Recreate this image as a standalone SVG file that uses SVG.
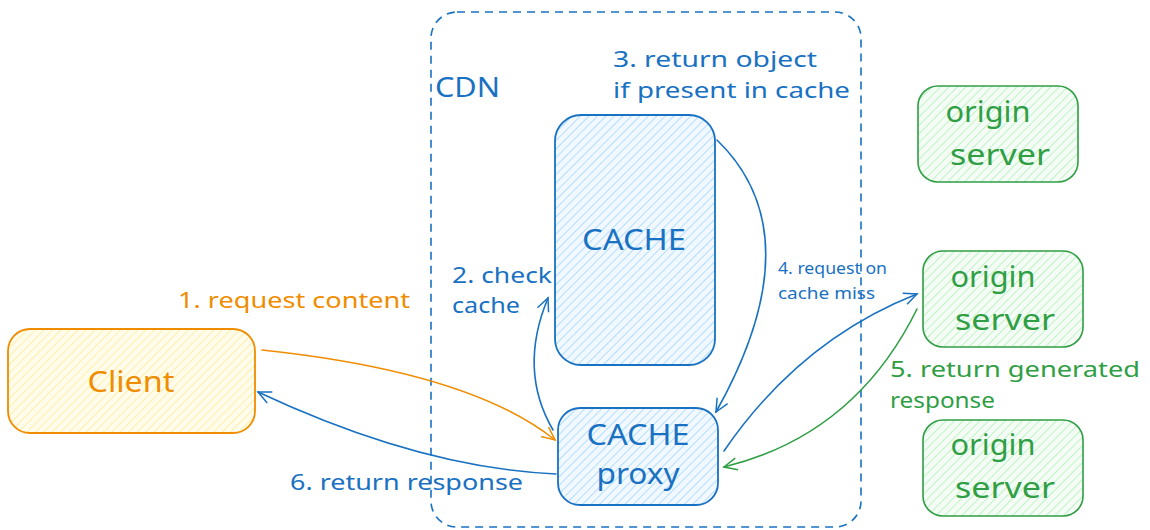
<svg xmlns="http://www.w3.org/2000/svg" width="1150" height="530" viewBox="0 0 1150 530">
<style>
text{font-family:"Noto Sans","Liberation Sans",sans-serif;}
.b{fill:#1971c2}.o{fill:#f08c00}.g{fill:#2f9e44}
.lbl{font-size:22px}
.big{font-size:29px;text-anchor:middle}
.conn{fill:none;stroke-width:1.6;stroke-linecap:round}
</style>
<defs>
<pattern id="hb" width="6" height="6" patternUnits="userSpaceOnUse" patternTransform="rotate(45)"><rect width="6" height="6" fill="#f1f8ff"/><line x1="0" y1="0" x2="0" y2="6" stroke="#a5d8ff" stroke-width="1.6"/></pattern>
<pattern id="ho" width="6" height="6" patternUnits="userSpaceOnUse" patternTransform="rotate(45)"><rect width="6" height="6" fill="#fffcec"/><line x1="0" y1="0" x2="0" y2="6" stroke="#ffec99" stroke-width="1.6"/></pattern>
<pattern id="hg" width="6" height="6" patternUnits="userSpaceOnUse" patternTransform="rotate(45)"><rect width="6" height="6" fill="#f4fcf5"/><line x1="0" y1="0" x2="0" y2="6" stroke="#b2f2bb" stroke-width="1.6"/></pattern>
<marker id="ab" markerWidth="16" markerHeight="16" refX="14" refY="8" orient="auto" markerUnits="userSpaceOnUse"><path d="M1,2 L14,8 L1,14" fill="none" stroke="#1971c2" stroke-width="1.5"/></marker>
<marker id="ao" markerWidth="16" markerHeight="16" refX="14" refY="8" orient="auto" markerUnits="userSpaceOnUse"><path d="M1,2 L14,8 L1,14" fill="none" stroke="#f08c00" stroke-width="1.5"/></marker>
<marker id="ag" markerWidth="16" markerHeight="16" refX="14" refY="8" orient="auto" markerUnits="userSpaceOnUse"><path d="M1,2 L14,8 L1,14" fill="none" stroke="#2f9e44" stroke-width="1.5"/></marker>
</defs>

<g id="cdn">
<rect x="431" y="12" width="430" height="515" rx="26" fill="none" stroke="#1971c2" stroke-width="1.6" stroke-dasharray="8 6"/>
<text class="b" x="435" y="97" font-size="27" textLength="65" lengthAdjust="spacingAndGlyphs">CDN</text>
</g>

<g id="cache">
<rect x="555" y="115" width="160" height="250" rx="26" fill="url(#hb)" stroke="#1971c2" stroke-width="1.8"/>
<text class="b big" x="634" y="250" textLength="104" lengthAdjust="spacingAndGlyphs">CACHE</text>
</g>

<g id="proxy">
<rect x="558" y="408" width="160" height="97" rx="22" fill="url(#hb)" stroke="#1971c2" stroke-width="1.8"/>
<text class="b big" x="638" y="445" textLength="103" lengthAdjust="spacingAndGlyphs">CACHE</text>
<text class="b big" x="638" y="484" textLength="83" lengthAdjust="spacingAndGlyphs">proxy</text>
</g>

<g id="client">
<rect x="8" y="329" width="247" height="104" rx="22" fill="url(#ho)" stroke="#f08c00" stroke-width="1.8"/>
<text class="o big" x="131" y="392" textLength="87" lengthAdjust="spacingAndGlyphs">Client</text>
</g>

<g id="origin1">
<rect x="918" y="86" width="160" height="96" rx="20" fill="url(#hg)" stroke="#2f9e44" stroke-width="1.6"/>
<text class="g big" x="988" y="122" textLength="85" lengthAdjust="spacingAndGlyphs">origin</text>
<text class="g big" x="1000" y="165" textLength="100" lengthAdjust="spacingAndGlyphs">server</text>
</g>
<g id="origin2">
<rect x="923" y="251" width="160" height="96" rx="20" fill="url(#hg)" stroke="#2f9e44" stroke-width="1.6"/>
<text class="g big" x="993" y="287" textLength="85" lengthAdjust="spacingAndGlyphs">origin</text>
<text class="g big" x="1005" y="330" textLength="100" lengthAdjust="spacingAndGlyphs">server</text>
</g>
<g id="origin3">
<rect x="923" y="420" width="160" height="96" rx="20" fill="url(#hg)" stroke="#2f9e44" stroke-width="1.6"/>
<text class="g big" x="993" y="455" textLength="85" lengthAdjust="spacingAndGlyphs">origin</text>
<text class="g big" x="1005" y="498" textLength="100" lengthAdjust="spacingAndGlyphs">server</text>
</g>

<g id="connectors">
<path class="conn" stroke="#f08c00" marker-end="url(#ao)" d="M262,350 Q470,372 555,440"/>
<path class="conn" stroke="#1971c2" marker-end="url(#ab)" d="M556,474 Q420,468 258,392"/>
<path class="conn" stroke="#1971c2" marker-end="url(#ab)" d="M553,430 Q518,370 548,298"/>
<path class="conn" stroke="#1971c2" marker-end="url(#ab)" d="M717,140 Q815,235 716,412"/>
<path class="conn" stroke="#1971c2" marker-end="url(#ab)" d="M724,451 Q800,340 917,294"/>
<path class="conn" stroke="#2f9e44" marker-end="url(#ag)" d="M917,309 Q855,435 724,467"/>
</g>

<g id="labels">
<text class="o lbl" x="178" y="308" textLength="232" lengthAdjust="spacingAndGlyphs">1. request content</text>
<text class="b lbl" x="452" y="283" textLength="100" lengthAdjust="spacingAndGlyphs">2. check</text>
<text class="b lbl" x="452" y="313" textLength="68" lengthAdjust="spacingAndGlyphs">cache</text>
<text class="b lbl" x="613" y="67" textLength="204" lengthAdjust="spacingAndGlyphs">3. return object</text>
<text class="b lbl" x="613" y="98" textLength="237" lengthAdjust="spacingAndGlyphs">if present in cache</text>
<text class="b" x="778" y="274" font-size="17" textLength="109" lengthAdjust="spacingAndGlyphs">4. request on</text>
<text class="b" x="778" y="299" font-size="17" textLength="97" lengthAdjust="spacingAndGlyphs">cache miss</text>
<text class="g lbl" x="890" y="377" textLength="250" lengthAdjust="spacingAndGlyphs">5. return generated</text>
<text class="g lbl" x="890" y="408" textLength="105" lengthAdjust="spacingAndGlyphs">response</text>
<text class="b lbl" x="290" y="490" textLength="233" lengthAdjust="spacingAndGlyphs">6. return response</text>
</g>
</svg>
